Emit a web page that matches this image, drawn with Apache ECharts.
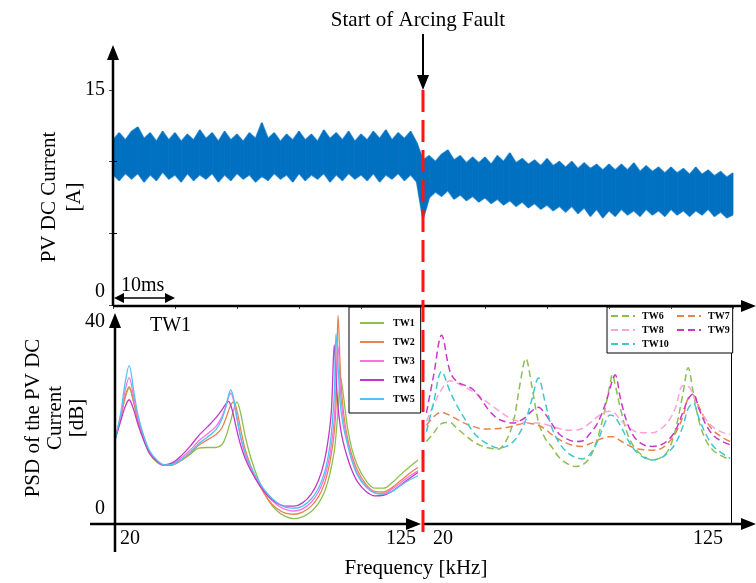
<!doctype html>
<html>
<head>
<meta charset="UTF-8">
<title>PV DC current and PSD</title>
<script src="https://cdn.jsdelivr.net/npm/echarts@6.0.0/dist/echarts.min.js"></script>
<style>
html, body { margin: 0; padding: 0; background: #fff; }
#main { width: 756px; height: 583px; }
</style>
</head>
<body>
<div id="main"></div>
<script>
// ---- top panel: envelope of the PV DC current (A), one sample per ms ----
var T_STEP_MS = 1;
var FAULT_MS = 50;
var CURRENT_UPPER = [
    11.5, 12.0, 11.5, 12.1, 12.4, 11.6, 12.0, 11.4, 12.1, 11.5,
    12.0, 11.4, 11.9, 11.5, 12.2, 11.6, 12.0, 11.4, 12.1, 11.5,
    11.9, 11.4, 12.0, 11.6, 12.7, 11.6, 12.0, 11.4, 11.9, 11.5,
    12.1, 11.5, 11.9, 11.4, 12.2, 11.6, 12.0, 11.5, 12.1, 11.4,
    11.9, 11.5, 12.1, 11.6, 12.2, 11.5, 12.0, 11.6, 12.1, 11.3,
    10.1, 10.4, 10.0, 10.5, 10.8, 10.1, 10.4, 9.9, 10.3, 9.9,
    10.3, 9.8, 10.4, 10.0, 10.6, 9.9, 10.2, 9.8, 10.1, 9.7,
    10.2, 9.7, 10.0, 9.6, 10.0, 9.5, 9.9, 9.5, 9.8, 9.4,
    9.8, 9.4, 9.8, 9.4, 9.9, 9.3, 9.7, 9.3, 9.6, 9.2,
    9.6, 9.2, 9.5, 9.1, 9.6, 9.1, 9.4, 9.0, 9.3, 8.9, 9.2
];
var CURRENT_LOWER = [
    9.1, 8.7, 9.2, 8.8, 9.2, 8.6, 9.1, 8.7, 9.3, 8.8,
    9.1, 8.6, 9.2, 8.7, 9.1, 8.8, 9.2, 8.6, 9.1, 8.7,
    9.2, 8.8, 9.1, 8.6, 9.0, 8.7, 9.2, 8.8, 9.1, 8.6,
    9.2, 8.7, 9.1, 8.8, 9.2, 8.6, 9.1, 8.7, 9.2, 8.8,
    9.1, 8.7, 9.2, 8.6, 9.1, 8.8, 9.2, 8.7, 9.1, 8.6,
    6.0, 7.5, 7.9, 7.6, 8.0, 7.4, 7.7, 7.3, 7.6, 7.2,
    7.5, 7.1, 7.4, 7.0, 7.3, 6.9, 7.2, 6.8, 7.1, 6.7,
    7.0, 6.6, 6.9, 6.5, 6.9, 6.4, 6.8, 6.2, 6.7, 6.1,
    6.6, 6.2, 6.7, 6.3, 6.6, 6.2, 6.7, 6.3, 6.6, 6.2,
    6.7, 6.3, 6.6, 6.2, 6.6, 6.3, 6.7, 6.2, 6.5, 6.1, 6.3
];

// ---- bottom left: PSD before the fault (dB), TW1..TW5 ----
var FREQ_LEFT = [20, 22, 23.5, 24.9, 26.5, 28, 30, 32, 34.5, 37,
    40, 43, 46, 49, 52, 55, 57, 58.5, 59.3, 60.1,
    61, 62.2, 63.5, 65, 67, 70, 73, 76, 79, 82,
    85, 88, 90.5, 92.5, 94, 95, 96, 96.6, 97.3, 98.2,
    99.2, 100.5, 102, 104, 107, 110, 113, 116, 119, 122, 125];
var TW1 = [15.5, 19.6, 23.2, 25.0, 22.3, 18.8, 15.4, 12.9, 11.4, 10.8,
    10.9, 11.7, 12.8, 14.0, 14.1, 14.1, 14.6, 16.2, 17.6, 19.0,
    20.8, 22.5, 20.5, 16.5, 12.3, 7.8, 4.5, 2.5, 1.4, 1.0,
    1.3, 2.3, 3.8, 5.8, 8.3, 10.6, 13.5, 16.5, 21.0, 27.0,
    23.5, 18.0, 14.0, 10.8, 8.0, 6.6, 6.6, 7.6, 9.1, 10.5, 11.8];
var TW2 = [15.5, 19.8, 23.5, 25.3, 22.5, 19.0, 15.6, 13.1, 11.5, 10.8,
    10.9, 11.8, 13.0, 14.5, 15.5, 16.5, 17.7, 19.6, 20.8, 21.9,
    22.5, 21.0, 17.6, 14.0, 10.8, 7.2, 4.6, 2.9, 2.0, 1.8,
    2.2, 3.3, 5.0, 7.3, 10.2, 13.0, 17.0, 22.0, 38.5, 27.0,
    20.5, 16.0, 12.8, 9.9, 7.3, 6.0, 5.9, 6.7, 8.0, 9.3, 10.4];
var TW3 = [15.5, 20.0, 24.6, 27.0, 23.3, 19.5, 15.9, 13.3, 11.7, 10.9,
    11.1, 12.2, 13.6, 15.3, 16.6, 18.0, 19.7, 21.8, 23.3, 24.1,
    23.0, 19.6, 16.0, 13.0, 10.3, 7.3, 5.1, 3.6, 2.7, 2.4,
    2.8, 4.0, 5.9, 8.4, 11.5, 14.6, 19.5, 25.5, 32.7, 24.0,
    19.0, 15.3, 12.2, 9.3, 7.0, 5.8, 5.6, 6.4, 7.6, 8.8, 9.8];
var TW4 = [15.5, 19.0, 21.6, 22.9, 21.0, 18.3, 15.4, 13.0, 11.6, 10.9,
    11.3, 12.6, 14.3, 16.3, 17.9, 19.6, 21.0, 22.2, 22.6, 21.9,
    20.2, 17.3, 14.6, 12.2, 9.9, 7.2, 5.2, 3.9, 3.3, 3.3,
    3.9, 5.5, 8.0, 11.5, 16.0, 21.0, 33.0, 27.0, 21.5, 17.5,
    14.8, 12.3, 10.0, 7.8, 6.0, 5.2, 5.3, 6.0, 7.2, 8.4, 9.5];
var TW5 = [15.5, 20.5, 26.0, 29.2, 24.5, 20.0, 16.2, 13.5, 11.8, 10.9,
    11.0, 11.9, 13.2, 14.8, 16.0, 17.4, 19.3, 21.8, 23.6, 24.7,
    23.4, 19.8, 16.2, 13.3, 10.6, 7.7, 5.5, 4.0, 3.1, 2.9,
    3.3, 4.6, 6.6, 9.3, 12.9, 16.8, 24.0, 35.1, 29.0, 21.5,
    17.8, 14.8, 11.8, 9.0, 6.8, 5.7, 5.5, 6.0, 7.1, 8.1, 8.9];

// ---- bottom right: PSD after the fault (dB), TW6..TW10 ----
var FREQ_RIGHT = [20.5, 23, 25.7, 28.6, 31, 33.5, 36.5, 39, 42, 45,
    48, 50.5, 52.5, 54.6, 56.6, 58.9, 61.2, 63.5, 66, 68.6,
    71.5, 74, 76.5, 79, 81.5, 83.5, 84.3, 85.2, 87.2, 89.5,
    92, 95, 98, 101, 103.5, 106, 108.5, 110.3, 112, 114,
    116.5, 119, 122, 124.7];
var TW6 = [15.2, 16.8, 18.5, 18.7, 17.6, 16.5, 15.2, 14.5, 14.0, 13.8,
    15.5, 19.3, 25.5, 30.5, 25.6, 18.9, 15.8, 14.2, 12.3, 11.2,
    10.6, 10.9, 12.2, 15.5, 20.5, 25.8, 27.6, 25.8, 21.0, 16.6,
    14.0, 12.5, 11.8, 12.3, 13.6, 17.5, 24.0, 28.8, 24.4, 19.0,
    15.3, 13.5, 12.5, 11.8];
var TW7 = [18.2, 19.8, 20.6, 20.0, 19.3, 18.6, 18.0, 17.6, 17.5, 17.6,
    17.8, 18.1, 18.4, 18.6, 18.5, 18.2, 17.5, 16.5, 15.6, 14.9,
    14.4, 14.3, 14.8, 15.4, 15.9, 16.1, 16.1, 16.0, 15.3, 14.6,
    14.0, 13.7, 13.6, 13.9, 15.0, 16.8, 19.8, 23.2, 23.8, 21.6,
    19.0, 17.2, 16.0, 15.2];
var TW8 = [18.9, 22.0, 24.8, 26.4, 26.0, 25.3, 24.4, 23.4, 22.2, 21.0,
    19.9, 19.2, 18.9, 18.7, 18.6, 18.6, 18.4, 18.0, 17.6, 17.3,
    17.3, 17.6, 18.6, 19.7, 20.6, 20.8, 20.7, 20.4, 19.1, 18.0,
    17.1, 16.8, 16.8, 17.6, 18.9, 21.5, 25.5, 25.4, 23.8, 21.2,
    19.2, 17.8, 16.9, 16.5];
var TW9 = [20.5, 27.5, 34.8, 28.1, 26.2, 25.6, 24.8, 23.2, 20.9, 19.4,
    18.8, 18.6, 19.0, 19.7, 20.8, 21.5, 20.3, 18.5, 16.6, 15.7,
    15.2, 15.3, 16.6, 18.4, 21.5, 25.0, 26.5, 27.5, 22.8, 18.5,
    15.9, 14.6, 14.3, 14.6, 15.5, 17.3, 20.6, 23.0, 24.0, 21.3,
    18.2, 16.3, 15.2, 14.6];
var TW10 = [17.0, 22.5, 28.1, 24.4, 21.8, 19.5, 17.0, 15.6, 14.6, 14.0,
    14.3, 15.3, 16.8, 19.2, 22.8, 26.9, 22.5, 17.8, 15.0, 13.3,
    12.3, 12.0, 12.8, 15.0, 18.3, 20.1, 20.0, 19.7, 18.0, 15.6,
    13.6, 12.3, 11.8, 12.2, 13.2, 14.9, 18.0, 21.3, 22.3, 19.5,
    16.4, 14.3, 13.0, 12.1];

var LEFT_NAMES = ['TW1', 'TW2', 'TW3', 'TW4', 'TW5'];
var RIGHT_NAMES = ['TW6', 'TW7', 'TW8', 'TW9', 'TW10'];
var LEFT_VALUES = [TW1, TW2, TW3, TW4, TW5];
var RIGHT_VALUES = [TW6, TW7, TW8, TW9, TW10];
var LEFT_COLORS = ['#8cbf4f', '#e8834f', '#ff70e4', '#c238c8', '#4cc6ef'];
var RIGHT_COLORS = ['#8cbf4f', '#e8834f', '#ffa3d6', '#c938c9', '#3cc8cf'];
var FREQ_TICKS = [20, 125];
var CURRENT_TICKS = [0, 15];
var PSD_TICKS = [0, 40];

// layout (pixels)
var L = {
    left: 113, right: 733, top: 90, mid: 306, bottom: 524,
    psdLeft: 115, psdRight: 418, psd2Left: 425, psd2Right: 731
};
var SERIF = 'Liberation Serif';

var dom = document.getElementById('main');
var myChart = echarts.init(dom, null, {renderer: 'canvas'});

// each band row: one slice between two samples [t, lo, hi, tNext, loNext, hiNext]
var bandRows = [];
for (var i = 0; i < CURRENT_UPPER.length - 1; i++) {
    bandRows.push([i * T_STEP_MS, CURRENT_LOWER[i], CURRENT_UPPER[i],
        (i + 1) * T_STEP_MS, CURRENT_LOWER[i + 1], CURRENT_UPPER[i + 1]]);
}

var series = [
    {
        name: 'upper', type: 'line', xAxisIndex: 0, yAxisIndex: 0, symbol: 'none', silent: true,
        data: CURRENT_UPPER.map(function (v, i) { return [i * T_STEP_MS, v]; }),
        lineStyle: {color: '#6aaee2', width: 2}, z: 1
    },
    {
        name: 'lower', type: 'line', xAxisIndex: 0, yAxisIndex: 0, symbol: 'none', silent: true,
        data: CURRENT_LOWER.map(function (v, i) { return [i * T_STEP_MS, v]; }),
        lineStyle: {color: '#6aaee2', width: 2}, z: 1
    },
    {
        name: 'band', type: 'custom', xAxisIndex: 0, yAxisIndex: 0, silent: true, z: 2,
        data: bandRows,
        encode: {x: [0, 3], y: [1, 2, 4, 5]},
        renderItem: function (params, api) {
            var a = api.coord([api.value(0), api.value(2)]);
            var b = api.coord([api.value(3), api.value(5)]);
            var c = api.coord([api.value(3), api.value(4)]);
            var d = api.coord([api.value(0), api.value(1)]);
            return {type: 'polygon', shape: {points: [a, b, c, d]},
                style: {fill: '#0070c0', stroke: '#0070c0', lineWidth: 0.8}};
        }
    }
];
LEFT_NAMES.forEach(function (name, k) {
    series.push({
        name: name, type: 'line', xAxisIndex: 2, yAxisIndex: 2,
        symbol: 'none', smooth: 0.35, color: LEFT_COLORS[k],
        lineStyle: {width: 1.3, color: LEFT_COLORS[k]},
        data: FREQ_LEFT.map(function (f, i) { return [f, LEFT_VALUES[k][i]]; })
    });
});
RIGHT_NAMES.forEach(function (name, k) {
    series.push({
        name: name, type: 'line', xAxisIndex: 3, yAxisIndex: 3,
        symbol: 'none', smooth: 0.35, color: RIGHT_COLORS[k],
        lineStyle: {width: 1.5, type: [7, 4], color: RIGHT_COLORS[k]},
        data: FREQ_RIGHT.map(function (f, i) { return [f, RIGHT_VALUES[k][i]]; })
    });
});

var legendText = {fontFamily: SERIF, fontWeight: 'bold', fontSize: 10, color: '#000'};
var noSymbol = {opacity: 0};

option = {
    animation: false,
    backgroundColor: '#fff',
    grid: [
        {left: L.left, top: L.top, width: L.right - L.left, height: L.mid - 1 - L.top},
        {left: L.psdLeft, top: L.mid + 1, width: L.psdRight - L.psdLeft, height: L.bottom - L.mid - 1},
        {left: L.psd2Left, top: L.mid + 1, width: L.psd2Right - L.psd2Left, height: L.bottom - L.mid - 1}
    ],
    xAxis: [
        {gridIndex: 0, type: 'value', min: 0, max: 100, axisLine: {show: false},
            axisTick: {show: false}, axisLabel: {show: false}, splitLine: {show: false}},
        {gridIndex: 0, type: 'value', position: 'top', min: 0, max: 100, interval: 10, z: 5,
            axisLine: {lineStyle: {color: '#555', width: 1}},
            axisTick: {inside: true, length: 4, lineStyle: {color: '#444'}},
            axisLabel: {show: false}, splitLine: {show: false}},
        {gridIndex: 1, type: 'value', min: 20, max: 125, axisLine: {show: false},
            axisTick: {show: false}, splitLine: {show: false},
            axisLabel: {customValues: FREQ_TICKS, alignMinLabel: 'left', alignMaxLabel: 'right',
                margin: 5, padding: [0, 2, 0, 5], fontFamily: SERIF, fontSize: 20, color: '#000'}},
        {gridIndex: 2, type: 'value', min: 20, max: 125, axisLine: {show: false},
            axisTick: {show: false}, splitLine: {show: false},
            axisLabel: {customValues: FREQ_TICKS, alignMinLabel: 'left', alignMaxLabel: 'right',
                margin: 5, padding: [0, 8, 0, 8], fontFamily: SERIF, fontSize: 20, color: '#000'}}
    ],
    yAxis: [
        {gridIndex: 0, type: 'value', min: 0, max: 15, interval: 5, axisLine: {show: false},
            splitLine: {show: false}, z: 5,
            axisTick: {inside: true, length: 4, customValues: [5, 10], lineStyle: {color: '#000'}},
            axisLabel: {customValues: CURRENT_TICKS, margin: 8, lineHeight: 13,
                fontFamily: SERIF, fontSize: 20, color: '#000',
                formatter: function (v) { return v === 0 ? '0\n \n ' : String(v); }}},
        {gridIndex: 0, type: 'value', position: 'right', min: 0, max: 15, interval: 5, z: 5,
            axisLine: {show: true, lineStyle: {color: '#555', width: 1}},
            axisTick: {show: true, inside: true, length: 4, lineStyle: {color: '#444'}},
            axisLabel: {show: false}, splitLine: {show: false}},
        {gridIndex: 1, type: 'value', min: 0, max: 40, axisLine: {show: false},
            axisTick: {show: false}, splitLine: {show: false},
            axisLabel: {customValues: PSD_TICKS, margin: 10, lineHeight: 15,
                fontFamily: SERIF, fontSize: 20, color: '#000',
                formatter: function (v) { return v === 0 ? '0\n \n ' : ' \n \n' + v; }}},
        {gridIndex: 2, type: 'value', position: 'right', min: 0, max: 40,
            axisLine: {show: true, lineStyle: {color: '#000', width: 1}},
            axisTick: {show: false}, axisLabel: {show: false}, splitLine: {show: false}}
    ],
    legend: [
        {data: LEFT_NAMES, orient: 'vertical', left: 349, top: L.mid + 1,
            itemWidth: 24, itemHeight: 10, itemGap: 9, padding: [11, 6, 9, 10],
            borderColor: '#000', borderWidth: 1, backgroundColor: '#fff', itemStyle: noSymbol,
            textStyle: Object.assign({padding: [0, 0, 0, 4]}, legendText)},
        {data: ['TW6', 'TW8', 'TW10'], orient: 'vertical', left: 607, top: L.mid + 1,
            itemWidth: 24, itemHeight: 8, itemGap: 4, padding: [4, 64, 4, 3],
            borderColor: '#000', borderWidth: 1, backgroundColor: '#fff', itemStyle: noSymbol,
            textStyle: Object.assign({padding: [0, 0, 0, 2]}, legendText)},
        {data: ['TW7', 'TW9'], orient: 'vertical', left: 676, top: L.mid + 1,
            itemWidth: 24, itemHeight: 8, itemGap: 4, padding: [4, 0, 0, 0], itemStyle: noSymbol,
            textStyle: Object.assign({padding: [0, 0, 0, 2]}, legendText)}
    ],
    series: series
};

myChart.setOption(option, true);

// decorations: arrows, fault marker and titles
var faultX = Math.round(myChart.convertToPixel({xAxisIndex: 0}, FAULT_MS));

function seg(x1, y1, x2, y2, w, color, dash) {
    return {type: 'line', z: 100, silent: true,
        shape: {x1: x1, y1: y1, x2: x2, y2: y2},
        style: {stroke: color || '#000', lineWidth: w, lineDash: dash || null}};
}
function head(x, y, dir, len, half) {
    var p;
    if (dir === 'up') p = [[x, y], [x - half, y + len], [x + half, y + len]];
    else if (dir === 'down') p = [[x, y], [x - half, y - len], [x + half, y - len]];
    else if (dir === 'left') p = [[x, y], [x + len, y - half], [x + len, y + half]];
    else p = [[x, y], [x - len, y - half], [x - len, y + half]];
    return {type: 'polygon', z: 101, silent: true, shape: {points: p}, style: {fill: '#000'}};
}
function label(text, x, y, size, align, rot, lh) {
    return {type: 'text', z: 102, silent: true, x: x, y: y, rotation: rot || 0,
        style: {text: text, fill: '#000', font: size + 'px "' + SERIF + '"',
            textAlign: align || 'center', textVerticalAlign: 'middle', lineHeight: lh || size}};
}

myChart.setOption({
    graphic: [
        seg(L.left, L.mid, L.left, 58, 2.5), head(L.left, 45, 'up', 15, 6),
        seg(L.left, L.mid, 744, L.mid, 2.5), head(756, L.mid, 'right', 15, 6),
        seg(L.psdLeft, 552, L.psdLeft, 327, 2.5), head(L.psdLeft, 313, 'up', 15, 6),
        seg(90, L.bottom, 408, L.bottom, 2.5), head(421, L.bottom, 'right', 15, 6),
        seg(faultX, L.bottom, 744, L.bottom, 2.5), head(756, L.bottom, 'right', 15, 6),
        seg(faultX, 34, faultX, 76, 2), head(faultX, 90, 'down', 15, 6),
        seg(faultX, L.top, faultX, 532, 3, '#ff1414', [22, 8]),
        seg(118, 298, 171, 298, 1.5), head(114, 298, 'left', 10, 5), head(175, 298, 'right', 10, 5),
        label('Start of Arcing Fault', 418, 20, 21),
        label('10ms', 121, 286, 20, 'left'),
        label('TW1', 150, 326, 20, 'left'),
        label('Frequency [kHz]', 416, 568, 21),
        label('PV DC Current\n[A]', 62, 197, 21, null, Math.PI / 2, 25),
        label('PSD of the PV DC\nCurrent\n[dB]', 55, 418, 21, null, Math.PI / 2, 22)
    ]
});
window.onresize = myChart.resize;
</script>
</body>
</html>
